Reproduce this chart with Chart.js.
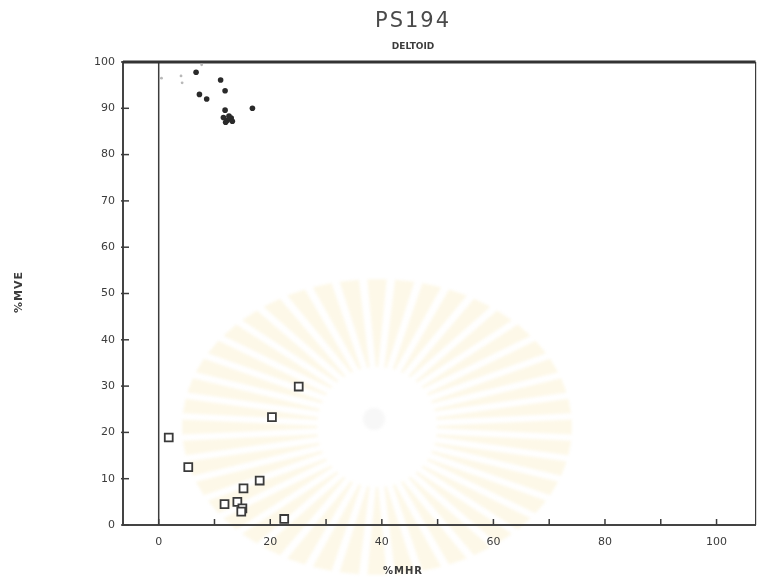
<!DOCTYPE html>
<html lang="en">
<head>
<meta charset="UTF-8">
<title>PS194 - Deltoid</title>
<script src="https://cdn.jsdelivr.net/npm/chart.js"></script>
<style>
  html, body { margin: 0; padding: 0; background: #ffffff; }
  #wrap { width: 763px; height: 581px; }
</style>
</head>
<body>
<div id="wrap"><canvas id="chart"></canvas></div>
<script>
// values: x = %MHR, y = %MVE
const squareX = [25.1, 20.3, 1.8, 5.3, 18.1, 15.2, 11.8, 14.1, 15.0, 14.8, 22.5];
const squareY = [29.9, 23.3, 18.9, 12.5, 9.6, 7.9, 4.5, 5.0, 3.6, 2.9, 1.3];

const dotX = [6.7, 7.3, 8.6, 11.1, 11.9, 16.8, 11.9, 11.6, 12.3, 13.0, 13.2, 12.0, 12.6];
const dotY = [97.8, 93.0, 92.0, 96.1, 93.8, 90.0, 89.6, 88.0, 87.4, 87.9, 87.2, 87.0, 88.3];

// very faint specks near the top
const faintX = [0.5, 4.0, 4.2, 7.7];
const faintY = [96.5, 97.0, 95.5, 99.4];

const xTicks = [0, 10, 20, 30, 40, 50, 60, 70, 80, 90, 100];
const xLabels = [0, 20, 40, 60, 80, 100];
const yTicks = [0, 10, 20, 30, 40, 50, 60, 70, 80, 90, 100];

const inkColor = '#3c3c3c';
const tickFont = { family: '"DejaVu Sans", sans-serif', size: 11 };

function toPoints(xs, ys) {
    return xs.map((x, i) => ({ x: x, y: ys[i] }));
}

// pale sunburst watermark behind the plot
const watermark = {
    id: 'watermark',
    beforeDraw(chart) {
        const ctx = chart.ctx;
        const cx = 377, cy = 427;
        ctx.save();
        ctx.fillStyle = '#ffffff';
        ctx.fillRect(0, 0, chart.width, chart.height);
        ctx.filter = 'blur(1.5px)';
        const n = 44;
        for (let i = 0; i < n; i++) {
            const a = (i / n) * Math.PI * 2;
            const w = 0.05;
            const r0 = 60;
            const rx = 195, ry = 148;
            ctx.beginPath();
            ctx.moveTo(cx + Math.cos(a - w * 0.4) * r0, cy + Math.sin(a - w * 0.4) * r0);
            ctx.lineTo(cx + Math.cos(a - w) * rx, cy + Math.sin(a - w) * ry);
            ctx.lineTo(cx + Math.cos(a + w) * rx, cy + Math.sin(a + w) * ry);
            ctx.lineTo(cx + Math.cos(a + w * 0.4) * r0, cy + Math.sin(a + w * 0.4) * r0);
            ctx.closePath();
            ctx.fillStyle = 'rgba(244, 220, 140, 0.2)';
            ctx.fill();
        }
        // torch head
        ctx.beginPath();
        ctx.arc(cx - 3, cy - 8, 11, 0, Math.PI * 2);
        ctx.fillStyle = 'rgba(200, 200, 200, 0.15)';
        ctx.fill();
        ctx.restore();
    }
};

// frame lines, inward tick marks and all the text
const frame = {
    id: 'frame',
    beforeDatasetsDraw(chart) {
        const ctx = chart.ctx;
        const a = chart.chartArea;
        const xs = chart.scales.x, ys = chart.scales.y;
        ctx.save();
        ctx.strokeStyle = inkColor;
        ctx.lineWidth = 1.5;
        xTicks.forEach(v => {
            const px = xs.getPixelForValue(v);
            ctx.beginPath();
            ctx.moveTo(px, a.bottom);
            ctx.lineTo(px, a.bottom - 6);
            ctx.stroke();
        });
        yTicks.forEach(v => {
            const py = ys.getPixelForValue(v);
            ctx.beginPath();
            ctx.moveTo(a.left - 2, py);
            ctx.lineTo(a.left + 6, py);
            ctx.stroke();
        });
        // x = 0 line
        const x0 = xs.getPixelForValue(0);
        ctx.beginPath();
        ctx.moveTo(x0, a.top);
        ctx.lineTo(x0, a.bottom);
        ctx.stroke();
        // right edge
        ctx.lineWidth = 1.2;
        ctx.beginPath();
        ctx.moveTo(a.right, a.top);
        ctx.lineTo(a.right, a.bottom);
        ctx.stroke();
        // heavy top line at 100
        ctx.strokeStyle = '#333333';
        ctx.lineWidth = 3;
        const yTop = ys.getPixelForValue(100);
        ctx.beginPath();
        ctx.moveTo(a.left, yTop);
        ctx.lineTo(a.right, yTop);
        ctx.stroke();
        ctx.restore();
    },
    afterDraw(chart) {
        const ctx = chart.ctx;
        ctx.save();
        ctx.textAlign = 'center';
        ctx.textBaseline = 'middle';
        ctx.fillStyle = '#4a4a4a';
        ctx.letterSpacing = '2px';
        ctx.font = '21px "DejaVu Sans", sans-serif';
        ctx.fillText('PS194', 413, 22);
        ctx.letterSpacing = '0px';
        ctx.fillStyle = inkColor;
        ctx.font = 'bold 9px "DejaVu Sans", sans-serif';
        ctx.fillText('DELTOID', 413, 47);
        ctx.letterSpacing = '1px';
        ctx.font = 'bold 10px "DejaVu Sans", sans-serif';
        ctx.fillText('%MHR', 403, 571);
        ctx.font = 'bold 11px "DejaVu Sans", sans-serif';
        ctx.translate(19, 292);
        ctx.rotate(-Math.PI / 2);
        ctx.fillText('%MVE', 0, 0);
        ctx.restore();
    }
};

new Chart(document.getElementById('chart'), {
    type: 'scatter',
    data: {
        datasets: [
            {
                label: 'squares',
                data: toPoints(squareX, squareY),
                pointStyle: 'rect',
                pointRadius: 5.6,
                borderWidth: 1.8,
                borderColor: '#3a3a3a',
                backgroundColor: '#ffffff'
            },
            {
                label: 'dots',
                data: toPoints(dotX, dotY),
                pointStyle: 'circle',
                pointRadius: 2.8,
                borderWidth: 0,
                backgroundColor: '#2a2a2a'
            },
            {
                label: 'faint',
                data: toPoints(faintX, faintY),
                pointStyle: 'circle',
                pointRadius: 1.4,
                borderWidth: 0,
                backgroundColor: '#b8b8b8'
            }
        ]
    },
    options: {
        responsive: true,
        maintainAspectRatio: false,
        animation: false,
        layout: { padding: { top: 62, right: 4, left: 0, bottom: 0 } },
        plugins: {
            legend: { display: false },
            tooltip: { enabled: false }
        },
        scales: {
            x: {
                type: 'linear',
                min: -6.4,
                max: 107,
                afterFit(s) { s.height = 56; },
                afterBuildTicks(s) { s.ticks = xTicks.map(v => ({ value: v })); },
                ticks: {
                    callback: v => (xLabels.includes(v) ? v : ''),
                    autoSkip: false,
                    maxRotation: 0,
                    padding: 11,
                    color: inkColor,
                    font: tickFont
                },
                grid: { drawOnChartArea: false, drawTicks: false },
                border: { display: true, color: '#444444', width: 2 }
            },
            y: {
                min: 0,
                max: 100,
                afterFit(s) { s.width = 123; },
                afterBuildTicks(s) { s.ticks = yTicks.map(v => ({ value: v })); },
                ticks: {
                    autoSkip: false,
                    padding: 8,
                    color: inkColor,
                    font: tickFont
                },
                grid: { drawOnChartArea: false, drawTicks: false },
                border: { display: true, color: '#444444', width: 2 }
            }
        }
    },
    plugins: [watermark, frame]
});
</script>
</body>
</html>
